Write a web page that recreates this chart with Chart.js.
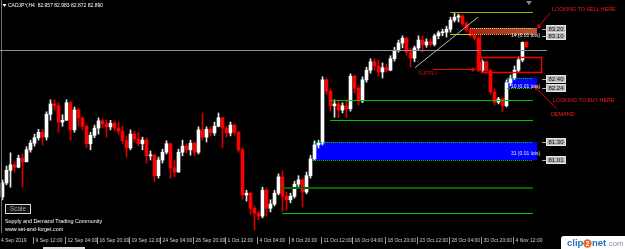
<!DOCTYPE html>
<html lang="en">
<head>
<meta charset="utf-8">
<title>CADJPY H4</title>
<script src="https://cdn.jsdelivr.net/npm/chart.js@4.4.1/dist/chart.umd.min.js"></script>
<style>
  html, body { margin: 0; padding: 0; background: #000; overflow: hidden; }
  canvas { display: block; }
</style>
</head>
<body>
<canvas id="graficoCadjpy" width="625" height="249"></canvas>
<script>
// CADJPY H4 - zonas de oferta e demanda (cada vela aqui = 2 barras H4)

const aberturaInicial = 80.40;

const fechamentos = [
  80.63, 80.84, 80.93, 80.89, 81.04, 80.98, 81.18, 81.29, 81.38, 81.47,
  81.39, 81.77, 81.94, 81.91, 81.64, 81.67, 81.96, 81.51, 81.84, 81.71,
  81.57, 81.28, 81.42, 81.54, 81.66, 81.61, 81.56, 81.62, 81.54, 81.49,
  81.33, 81.21, 81.44, 81.36, 81.28, 81.34, 81.08, 81.09, 80.75, 81.01,
  81.14, 81.28, 80.88, 80.81, 81.14, 81.24, 81.18, 81.29, 81.14, 81.51,
  81.39, 81.52, 81.46, 81.57, 81.71, 81.54, 81.46, 81.59, 81.47, 81.18,
  80.43, 80.46, 80.21, 80.13, 80.08, 80.51, 80.21, 80.28, 80.46, 80.73,
  80.41, 80.35, 80.41, 80.61, 80.68, 80.48, 80.75, 81.03, 81.26, 81.29,
  82.34, 82.15, 81.91, 81.94, 81.84, 81.91, 81.86, 82.40, 82.20, 81.99,
  82.34, 82.50, 82.64, 82.57, 82.47, 82.54, 82.50, 82.69, 82.83, 82.95,
  83.03, 82.80, 82.70, 82.87, 83.00, 82.92, 82.97, 82.93, 83.07, 83.12,
  83.13, 83.18, 83.33, 83.38, 83.40, 83.27, 83.17, 83.08, 83.03, 82.50,
  82.64, 82.49, 82.14, 81.97, 82.02, 81.91, 82.29, 82.37, 82.50, 82.67,
  82.96, 82.89
];

const maximas = [
  80.68, 80.91, 81.13, 80.98, 81.09, 81.11, 81.23, 81.34, 81.44, 81.52,
  81.52, 81.81, 82.01, 82.01, 81.96, 81.76, 82.01, 81.99, 81.89, 81.87,
  81.72, 81.59, 81.47, 81.59, 81.71, 81.69, 81.67, 81.67, 81.66, 81.64,
  81.57, 81.41, 81.51, 81.49, 81.47, 81.39, 81.38, 81.16, 81.11, 81.06,
  81.19, 81.33, 81.29, 81.01, 81.19, 81.34, 81.28, 81.34, 81.31, 81.56,
  81.79, 81.56, 81.56, 81.64, 81.79, 81.72, 81.57, 81.64, 81.61, 81.49,
  81.21, 80.51, 80.48, 80.25, 80.16, 80.56, 80.55, 80.35, 80.51, 80.78,
  80.83, 80.48, 80.46, 80.66, 80.75, 80.71, 80.81, 81.09, 81.33, 81.34,
  82.39, 82.37, 82.19, 82.01, 81.99, 81.96, 81.99, 82.44, 82.42, 82.24,
  82.39, 82.55, 82.69, 82.69, 82.67, 82.62, 82.60, 82.74, 82.88, 83.00,
  83.07, 83.05, 82.87, 82.90, 83.07, 83.07, 83.02, 83.02, 83.10, 83.15,
  83.18, 83.23, 83.38, 83.45, 83.43, 83.42, 83.30, 83.18, 83.13, 83.07,
  82.67, 82.65, 82.52, 82.19, 82.05, 82.04, 82.34, 82.42, 82.57, 82.72,
  82.97, 82.98
];

const minimas = [
  80.35, 80.60, 80.56, 80.81, 80.88, 80.56, 80.98, 81.14, 81.24, 81.34,
  81.26, 81.34, 81.67, 81.84, 81.47, 81.57, 81.67, 81.34, 81.47, 81.57,
  81.51, 81.21, 81.18, 81.38, 81.44, 81.54, 81.39, 81.51, 81.49, 81.44,
  81.28, 81.06, 81.18, 81.31, 81.24, 81.18, 80.96, 81.01, 80.65, 80.71,
  80.96, 81.11, 80.71, 80.73, 80.81, 81.08, 81.13, 81.09, 81.08, 81.11,
  81.34, 81.31, 81.41, 81.42, 81.56, 81.21, 81.39, 81.41, 81.42, 81.14,
  80.36, 80.33, 80.11, 79.85, 80.02, 80.05, 80.08, 80.15, 80.25, 80.43,
  80.16, 80.18, 80.30, 80.38, 80.56, 80.23, 80.45, 80.71, 81.01, 81.21,
  81.26, 82.10, 81.82, 81.72, 81.71, 81.79, 81.71, 81.82, 82.12, 81.92,
  81.96, 82.30, 82.45, 82.50, 82.40, 82.37, 82.47, 82.49, 82.65, 82.80,
  82.87, 82.75, 82.55, 82.64, 82.83, 82.80, 82.88, 82.90, 82.90, 83.02,
  83.07, 83.05, 83.13, 83.30, 83.30, 83.23, 83.13, 83.05, 83.00, 82.47,
  82.47, 82.44, 82.10, 81.92, 81.94, 81.81, 81.89, 82.24, 82.34, 82.47,
  82.64, 82.87
];

const rotulosTempo = [
  '4 Sep 2019', '9 Sep 12:00', '12 Sep 04:00', '16 Sep 20:00', '19 Sep 12:00',
  '24 Sep 04:00', '26 Sep 20:00', '1 Oct 12:00', '4 Oct 04:00', '8 Oct 20:00',
  '11 Oct 12:00', '16 Oct 04:00', '18 Oct 20:00', '23 Oct 12:00', '28 Oct 04:00',
  '30 Oct 20:00', '4 Nov 12:00'
];
const velasRotulo = [0, 8, 16, 24, 32, 40, 48, 56, 64, 72, 80, 88, 96, 104, 112, 120, 128];

const precosEtiqueta = ['83.20', '83.10', '82.40', '82.24', '81.30', '81.01'];
const niveisEtiqueta = [83.19, 83.07, 82.36, 82.20, 81.31, 81.01];

const linhaBid = 82.83;
const linhaTopo = 83.46;
const linhasVerdesAltas = [82.01, 81.67];
const linhaVerdeEscura = 80.55;
const linhaVerdeBaixa = 80.13;

const zonas = [
  { x1: 116.9, x2: 133.6, topo: 83.20, base: 83.10, nivelTexto: 83.08, texto: '14 (0.01 lots)', tipo: 'oferta' },
  { x1: 126.1, x2: 133.6, topo: 82.37, base: 82.21, nivelTexto: 82.23, texto: '10 (0.01 lots)', tipo: 'demanda' },
  { x1: 77.6, x2: 133.6, topo: 81.31, base: 81.01, nivelTexto: 81.11, texto: '31 (0.01 lots)', tipo: 'demanda' }
];

const indices = fechamentos.map((_, i) => i);
const aberturas = fechamentos.map((c, i) => (i === 0 ? aberturaInicial : fechamentos[i - 1]));
const altas = indices.map(i => fechamentos[i] >= aberturas[i]);

const FONTE = '"Liberation Sans", Arial, sans-serif';

function traco(c, x1, y1, x2, y2, cor, largura = 1, dash = []) {
    c.beginPath();
    c.strokeStyle = cor;
    c.lineWidth = largura;
    c.setLineDash(dash);
    c.moveTo(x1, y1);
    c.lineTo(x2, y2);
    c.stroke();
    c.setLineDash([]);
}

function horizontal(c, x1, x2, y, cor, largura = 1, dash = []) {
    const yy = largura % 2 ? Math.round(y) + 0.5 : Math.round(y);
    traco(c, x1, yy, x2, yy, cor, largura, dash);
}

function seta(c, x1, y1, x2, y2, cor) {
    traco(c, x1, y1, x2, y2, cor, 1);
    const ang = Math.atan2(y2 - y1, x2 - x1), t = 5;
    c.beginPath();
    c.fillStyle = cor;
    c.moveTo(x2, y2);
    c.lineTo(x2 - t * Math.cos(ang - 0.5), y2 - t * Math.sin(ang - 0.5));
    c.lineTo(x2 - t * Math.cos(ang + 0.5), y2 - t * Math.sin(ang + 0.5));
    c.closePath();
    c.fill();
}

function escrever(c, s, x, y, cor, tam, alinh = 'left', peso = '') {
    c.font = `${peso} ${tam}px ${FONTE}`;
    c.fillStyle = cor;
    c.textAlign = alinh;
    c.textBaseline = 'middle';
    c.fillText(s, x, y);
}

const desenhos = {
    id: 'desenhos',
    beforeDraw(chart) {
        const c = chart.ctx;
        c.save();
        c.fillStyle = '#000';
        c.fillRect(0, 0, chart.width, chart.height);
        c.restore();
    },
    beforeDatasetsDraw(chart) {
        const c = chart.ctx;
        const X = v => chart.scales.x.getPixelForValue(v);
        const Y = v => chart.scales.y.getPixelForValue(v);
        c.save();
        // zonas (atrás das velas)
        zonas.forEach(z => {
            const x1 = Math.round(X(z.x1)), x2 = Math.round(X(z.x2));
            const y1 = Math.round(Y(z.topo)), y2 = Math.round(Y(z.base));
            if (z.tipo === 'oferta') {
                const grad = c.createLinearGradient(x1, 0, x2, 0);
                grad.addColorStop(0, '#a02420');
                grad.addColorStop(1, '#b8503a');
                c.fillStyle = grad;
            } else {
                c.fillStyle = '#0000ff';
            }
            c.fillRect(x1, y1, x2 - x1, y2 - y1);
        });
        c.restore();
    },
    afterDatasetsDraw(chart) {
        const c = chart.ctx;
        const X = v => chart.scales.x.getPixelForValue(v);
        const Y = v => chart.scales.y.getPixelForValue(v);
        c.save();

        // borda esquerda
        traco(c, 1.5, 0, 1.5, 233, '#707070');

        // linha do preço atual
        horizontal(c, 0, X(136.1), Y(linhaBid), '#8793a4');

        // bordas pontilhadas das zonas
        zonas.forEach(z => {
            const cor = z.tipo === 'oferta' ? '#e8e000' : '#00d000';
            const fim = z.tipo === 'oferta' ? X(132.6) : X(z.x2) - 4;
            horizontal(c, X(z.x1), fim, Y(z.topo), cor, 1, [1, 1]);
            horizontal(c, X(z.x1), fim, Y(z.base), cor, 1, [1, 1]);
        });

        // linhas de nível
        horizontal(c, X(111.9), X(132.6), Y(linhaTopo), '#a8a400');
        horizontal(c, X(111.9), X(116.9), Y(83.10), '#c8c400');
        linhasVerdesAltas.forEach(p => horizontal(c, X(81.9), X(132.6), Y(p), '#00c400'));
        horizontal(c, X(69.9), X(132.6), Y(linhaVerdeEscura), '#006a00', 2);
        horizontal(c, X(69.9), X(132.6), Y(linhaVerdeBaixa), '#00cc00');

        // linha de tendência
        traco(c, X(103.1), Y(82.54), X(118.9), Y(83.38), '#b8b8b8');

        // retângulo vermelho e ligação com a zona de oferta
        const rx1 = Math.round(X(119.6)) + 0.5, rx2 = Math.round(X(134.6)) + 0.5;
        const ry1 = Math.round(Y(82.72)) + 0.5, ry2 = Math.round(Y(82.47)) + 0.5;
        c.strokeStyle = '#f00000';
        c.lineWidth = 1.5;
        c.strokeRect(rx1, ry1, rx2 - rx1, ry2 - ry1);
        traco(c, Math.round(X(119.4)) + 0.5, Y(83.08), Math.round(X(119.4)) + 0.5, ry1, '#f00000', 1.5);

        // setas
        seta(c, X(107.6), Math.round(Y(82.52)) + 0.5, X(118.4), Math.round(Y(82.52)) + 0.5, '#f00000');
        seta(c, X(136.9), Y(83.45), X(133.6), Y(83.19), '#f00000');
        seta(c, X(138.6), Y(81.86), X(132.9), Y(82.24), '#e00000');

        // textos vermelhos
        escrever(c, 'SUPPLY', X(103.9), Y(82.44), '#c81010', 5);
        escrever(c, 'LOOKING TO SELL HERE', X(137.4), Y(83.51), '#ff1a1a', 5.3);
        escrever(c, 'LOOKING TO BUY HERE', X(137.6), Y(81.99), '#ff1a1a', 5.3);
        escrever(c, 'DEMAND', X(137.1), Y(81.76), '#ff1a1a', 5.5);

        // textos das zonas
        zonas.forEach(z => escrever(c, z.texto, X(134.4), Y(z.nivelTexto), '#e8e8f0', 5, 'right'));

        // etiquetas de preço
        precosEtiqueta.forEach((t, i) => {
            const y = Math.round(Y(niveisEtiqueta[i]));
            const bx = Math.round(X(135.9)) + 0.5;
            traco(c, X(134.9), y + 0.5, bx, y + 0.5, '#b0b0b0');
            c.fillStyle = '#bcbcbc';
            c.fillRect(bx, y - 3, 19, 7);
            c.strokeStyle = '#e6e6e6';
            c.lineWidth = 1;
            c.strokeRect(bx, y - 3.5, 19, 7);
            escrever(c, t, bx + 9.5, y + 0.5, '#101010', 6, 'center');
        });

        // marcador de deslocamento
        c.fillStyle = '#8a8a8a';
        c.beginPath();
        c.moveTo(526, 1); c.lineTo(532, 1); c.lineTo(529, 5); c.closePath();
        c.fill();

        // eixo do tempo
        rotulosTempo.forEach((r, k) => {
            const x = Math.round(X(velasRotulo[k] - 0.5)) + 0.5;
            if (k > 0) traco(c, x, 237, x, 244, '#9a9a9a');
            escrever(c, r, k > 0 ? x + 2 : 1, 241, '#cfcfcf', 5);
        });

        // título e rodapé
        c.fillStyle = '#ffffff';
        c.beginPath();
        c.moveTo(2.5, 4); c.lineTo(6.5, 4); c.lineTo(4.5, 7); c.closePath();
        c.fill();
        escrever(c, 'CADJPY,H4  82.957 82.983 82.872 82.890', 8, 5.5, '#ffffff', 5);

        c.fillStyle = '#111';
        c.fillRect(5.5, 204.5, 25, 9);
        c.strokeStyle = '#d8d8d8';
        c.lineWidth = 1;
        c.strokeRect(5.5, 204.5, 25, 9);
        escrever(c, 'Scale', 18, 209.5, '#a8a8a8', 6.4, 'center');
        escrever(c, 'Supply and Demand Trading Community', 5, 222, '#ffffff', 5.4);
        escrever(c, 'www.set-and-forget.com', 5, 229.5, '#ffffff', 5.4);

        // faixa inferior e logotipo
        c.fillStyle = '#d9d9d9';
        c.fillRect(43, 247, 42, 2);
        c.fillStyle = '#ffffff';
        c.beginPath();
        c.roundRect(561, 236, 66, 15, 3);
        c.fill();
        escrever(c, 'clip', 567, 243.5, '#2e6fc4', 9.5, 'left', 'bold');
        c.fillStyle = '#e8682a';
        c.beginPath();
        c.arc(587.5, 243.5, 4.2, 0, Math.PI * 2);
        c.fill();
        escrever(c, '2', 587.5, 243.8, '#ffffff', 6.5, 'center', 'bold');
        escrever(c, 'net', 592, 243.5, '#2e6fc4', 9.5, 'left', 'bold');
        escrever(c, '.com', 607, 243.8, '#7a8aa0', 7.5);

        c.restore();
    }
};

const ctx = document.getElementById('graficoCadjpy');

new Chart(ctx, {
    type: 'bar',
    data: {
        datasets: [
            {
                label: 'pavio',
                data: indices.map(i => ({ x: i, y: [minimas[i], maximas[i]] })),
                backgroundColor: altas.map(a => (a ? '#e6e6e6' : '#d40000')),
                barThickness: 1,
                grouped: false,
                order: 2
            },
            {
                label: 'corpo',
                data: indices.map(i => ({ x: i, y: [aberturas[i], fechamentos[i]] })),
                backgroundColor: altas.map(a => (a ? '#ffffff' : '#ff0000')),
                barThickness: 3,
                minBarLength: 1,
                grouped: false,
                order: 1
            }
        ]
    },
    options: {
        responsive: false,
        animation: false,
        layout: { padding: { left: 0, right: 0, top: 0, bottom: 16 } },
        plugins: {
            legend: { display: false },
            tooltip: { enabled: false }
        },
        scales: {
            x: { type: 'linear', min: -0.625, max: 155.625, offset: false, display: false },
            y: { min: 79.80, max: 83.664, beginAtZero: false, display: false }
        }
    },
    plugins: [desenhos]
});
</script>
</body>
</html>
